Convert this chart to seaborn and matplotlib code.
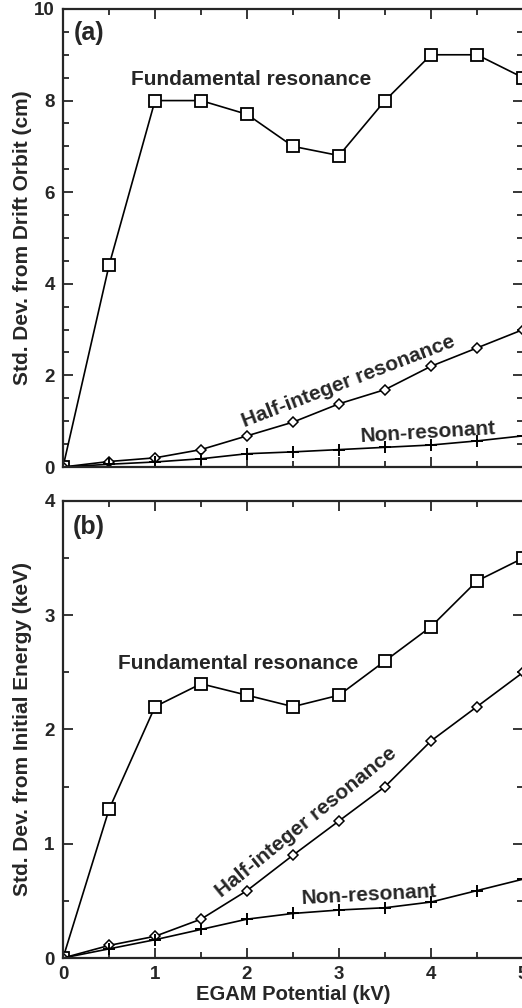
import matplotlib
matplotlib.use("Agg")
import matplotlib.pyplot as plt
import seaborn as sns
import numpy as np
from matplotlib.ticker import MultipleLocator

sns.set_style("ticks")
plt.rcParams['font.family'] = ['Liberation Sans', 'DejaVu Sans']
plt.rcParams['font.weight'] = 'bold'

potential = [0, 0.5, 1, 1.5, 2, 2.5, 3, 3.5, 4, 4.5, 5]

# Panel (a): std. dev. from drift orbit (cm)
a_fundamental = [0, 4.4, 8.0, 8.0, 7.7, 7.0, 6.8, 8.0, 9.0, 9.0, 8.5]
a_half_integer = [0, 0.12, 0.2, 0.38, 0.68, 0.98, 1.38, 1.69, 2.2, 2.6, 3.0]
a_non_resonant = [0, 0.06, 0.11, 0.18, 0.29, 0.33, 0.38, 0.43, 0.48, 0.57, 0.68]

# Panel (b): std. dev. from initial energy (keV)
b_fundamental = [0, 1.3, 2.2, 2.4, 2.3, 2.2, 2.3, 2.6, 2.9, 3.3, 3.5]
b_half_integer = [0, 0.11, 0.19, 0.34, 0.59, 0.9, 1.2, 1.5, 1.9, 2.2, 2.5]
b_non_resonant = [0, 0.08, 0.16, 0.25, 0.34, 0.39, 0.42, 0.44, 0.49, 0.59, 0.69]

fig = plt.figure(figsize=(5.22, 10.08), dpi=100)
axA = fig.add_axes([0.1207, 0.5367, 0.8813, 0.4544])
axB = fig.add_axes([0.1207, 0.0496, 0.8813, 0.4534])

def draw(ax, fund, half, non):
    sns.lineplot(x=potential, y=fund, ax=ax, color='black', lw=1.2,
                 marker='s', markersize=8, markerfacecolor='white',
                 markeredgecolor='black', markeredgewidth=1.3)
    sns.lineplot(x=potential, y=half, ax=ax, color='black', lw=1.2,
                 marker='D', markersize=5.5, markerfacecolor='white',
                 markeredgecolor='black', markeredgewidth=1.1)
    sns.lineplot(x=potential, y=non, ax=ax, color='black', lw=1.2,
                 marker='+', markersize=8, markeredgecolor='black',
                 markeredgewidth=1.4)

draw(axA, a_fundamental, a_half_integer, a_non_resonant)
draw(axB, b_fundamental, b_half_integer, b_non_resonant)

for ax, ymax, ymaj in [(axA, 10, 2), (axB, 4, 1)]:
    ax.set_xlim(0, 5)
    ax.set_ylim(0, ymax)
    ax.xaxis.set_major_locator(MultipleLocator(1))
    ax.xaxis.set_minor_locator(MultipleLocator(0.5))
    ax.yaxis.set_major_locator(MultipleLocator(ymaj))
    ax.yaxis.set_minor_locator(MultipleLocator(0.5))
    ax.tick_params(which='both', direction='in', top=True, right=True,
                   width=1.3, labelsize=13.5, pad=6)
    ax.tick_params(which='major', length=7)
    ax.tick_params(which='minor', length=4)
    for s in ax.spines.values():
        s.set_linewidth(1.6)
        s.set_visible(True)
    for lab in ax.get_xticklabels() + ax.get_yticklabels():
        lab.set_fontweight('bold')

axA.set_xticklabels([])
axA.set_ylabel('Std. Dev. from Drift Orbit (cm)', fontsize=15, fontweight='bold')
axB.set_ylabel('Std. Dev. from Initial Energy (keV)', fontsize=15, fontweight='bold')
axA.yaxis.set_label_coords(-0.068, 0.5)
axB.yaxis.set_label_coords(-0.068, 0.5)
axB.set_xlabel('EGAM Potential (kV)', fontsize=14.5, fontweight='bold')
axB.xaxis.set_label_coords(0.5, -0.058)

tkw = dict(fontsize=15, fontweight='bold', ha='center', va='center')
axA.text(0.28, 9.48, '(a)', fontsize=18, fontweight='bold', ha='center', va='center')
axA.text(2.05, 8.45, 'Fundamental resonance', **tkw)
axA.text(3.10, 1.86, 'Half-integer resonance', rotation=21, **tkw)
axA.text(3.97, 0.76, 'Non-resonant', rotation=3.4, **tkw)

axB.text(0.28, 3.77, '(b)', fontsize=18, fontweight='bold', ha='center', va='center')
axB.text(1.90, 2.58, 'Fundamental resonance', **tkw)
axB.text(2.64, 1.19, 'Half-integer resonance', rotation=39, **tkw)
axB.text(3.33, 0.55, 'Non-resonant', rotation=3, **tkw)

fig.savefig('out.png', dpi=100)
